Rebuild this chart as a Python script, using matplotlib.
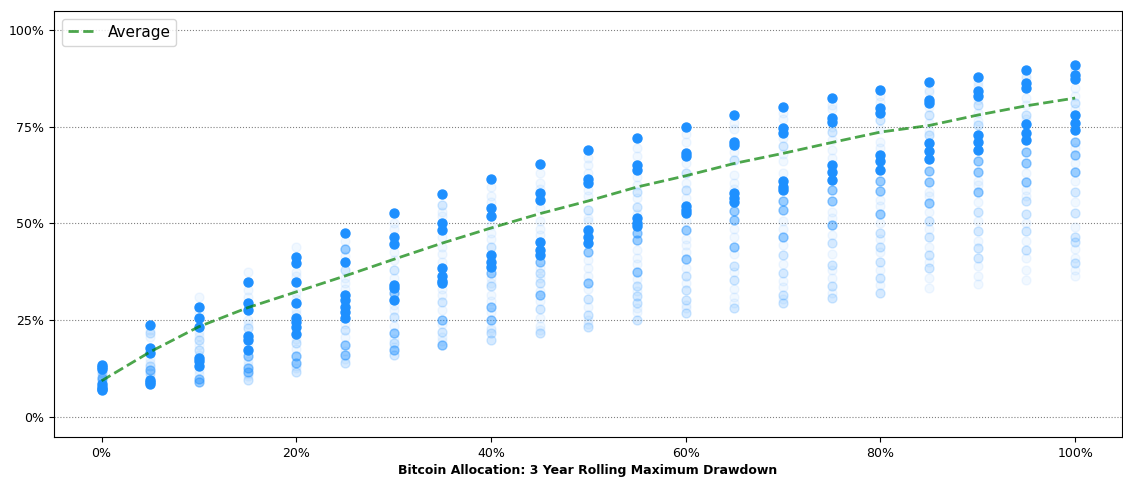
import matplotlib
matplotlib.use("Agg")
import matplotlib.pyplot as plt
from matplotlib.ticker import PercentFormatter

# bitcoin allocation (%) for each column of points
allocations = [0, 5, 10, 15, 20, 25, 30, 35, 40, 45, 50,
               55, 60, 65, 70, 75, 80, 85, 90, 95, 100]

# 3 year rolling max drawdown (%), grouped by how recent the window is
dd_recent = [
    [13.4, 12.8, 12.3, 8.4, 7.8, 7.3, 6.9],
    [23.8, 17.7, 16.6, 9.4, 8.9, 8.5],
    [28.3, 25.6, 23.3, 15.2, 14.3, 13.2],
    [34.8, 29.5, 27.5, 20.8, 19.9, 17.3],
    [41.4, 39.7, 34.8, 29.5, 25.6, 24.6, 23.3, 21.4],
    [47.5, 39.9, 31.5, 30.2, 28.5, 27.2, 25.5],
    [52.8, 46.6, 44.7, 34.1, 33.3, 30.2],
    [57.5, 50.0, 48.3, 38.4, 36.3, 35.2, 34.5],
    [61.5, 53.9, 51.8, 41.9, 40.1, 38.8],
    [65.4, 57.8, 56.1, 45.3, 43.2, 41.9],
    [69.0, 61.4, 60.4, 48.3, 46.6, 44.9],
    [72.0, 65.1, 63.8, 51.3, 50.0, 49.2],
    [75.0, 68.1, 67.3, 54.5, 53.5, 52.6],
    [77.9, 71.1, 70.3, 57.8, 56.5, 55.6],
    [80.2, 74.6, 73.3, 61.0, 59.5, 58.7],
    [82.3, 77.3, 76.3, 65.1, 63.4, 61.2],
    [84.5, 79.8, 78.5, 67.7, 66.0, 63.8],
    [86.5, 81.9, 81.0, 70.7, 68.6, 66.7],
    [87.9, 84.1, 83.0, 72.9, 71.0, 69.0],
    [89.7, 86.2, 84.9, 75.6, 73.3, 71.6],
    [91.0, 88.4, 87.3, 78.0, 75.9, 74.2],
]
dd_mid = [
    [10.0], [12.0], [9.8, 9.0], [12.7, 11.7, 15.6], [15.6, 13.9],
    [43.4, 18.6, 16.0], [32.0, 21.6, 17.3], [25.1, 18.6],
    [37.1, 28.5, 25.1], [39.9, 31.5], [42.7, 34.7],
    [47.6, 45.6, 37.5], [48.3, 40.8], [53.2, 50.9, 44.0],
    [55.9, 53.5, 46.6], [58.7, 55.8, 49.6], [61.0, 58.4, 52.4],
    [63.6, 60.8, 55.2], [66.0, 63.2, 58.1], [68.4, 65.5, 60.6],
    [71.1, 67.7, 63.4],
]
dd_old = [
    [11.2, 9.6], [21.7, 13.0, 11.4], [19.9, 17.3], [22.9, 9.6],
    [19.0, 11.7], [38.0, 22.5, 13.9], [38.0, 25.9, 19.0, 16.0],
    [54.8, 29.8, 22.0], [44.0, 33.7, 21.6, 19.9],
    [37.1, 34.5, 27.8, 21.6], [53.5, 30.4, 26.4, 23.3],
    [58.1, 54.3, 33.7, 31.1, 29.4, 25.1],
    [63.0, 58.7, 36.5, 32.8, 30.2, 26.8],
    [66.4, 39.1, 35.4, 28.1],
    [70.1, 41.9, 37.1, 31.5, 29.4],
    [73.7, 44.9, 39.3, 33.7, 30.7],
    [76.7, 47.5, 44.0, 40.1, 35.8, 32.0],
    [78.0, 72.9, 50.5, 46.6, 41.9, 38.4],
    [80.6, 75.5, 53.0, 47.9, 43.6, 41.0],
    [78.0, 55.8, 52.4, 47.9, 43.2],
    [81.0, 58.2, 52.6, 46.6, 45.3, 39.7],
]
dd_oldest = [
    [12.0, 11.8, 10.6, 9.0],
    [22.5, 20.5, 15.0, 14.0, 10.2],
    [31.0, 27.0, 22.0, 21.0, 18.5, 16.0, 12.0, 11.0],
    [37.5, 32.8, 31.0, 25.0, 24.0, 18.5, 14.5, 13.5, 11.0, 10.5],
    [44.0, 37.5, 36.5, 32.0, 30.5, 27.5, 26.5, 20.0, 17.5, 13.0, 12.5],
    [45.5, 41.5, 36.0, 34.5, 33.0, 29.0, 24.0, 20.5, 17.0, 15.0],
    [50.0, 48.5, 42.5, 40.5, 36.0, 29.0, 27.5, 23.5, 20.0, 18.0],
    [53.0, 52.0, 46.5, 44.0, 42.0, 40.0, 33.0, 31.5, 27.5, 24.0, 20.5, 19.5],
    [59.5, 57.0, 55.5, 49.5, 47.5, 46.0, 36.0, 34.5, 31.5, 30.0, 27.0, 23.0, 22.5],
    [63.0, 60.5, 59.0, 54.0, 50.5, 48.5, 47.0, 38.5, 36.0, 32.5, 30.0, 25.5, 23.5, 22.5],
    [67.0, 65.0, 63.0, 58.5, 57.0, 51.5, 50.5, 40.5, 38.5, 36.5, 33.0, 28.5, 25.0, 24.0],
    [69.5, 67.5, 62.0, 60.0, 56.5, 52.5, 43.0, 41.0, 39.5, 35.5, 32.5, 28.0, 27.0],
    [73.0, 71.0, 65.5, 60.5, 56.5, 50.5, 46.0, 44.5, 42.5, 38.5, 34.5, 29.0, 28.0],
    [76.0, 74.5, 68.5, 62.5, 60.5, 59.0, 48.5, 46.5, 42.0, 37.5, 33.0, 31.0, 29.5],
    [78.5, 77.0, 72.0, 68.0, 66.0, 63.0, 50.5, 48.5, 44.5, 39.5, 35.0, 33.5, 30.5],
    [80.5, 79.5, 75.0, 71.5, 69.0, 67.0, 53.0, 51.5, 47.0, 42.0, 38.0, 36.0, 32.0],
    [83.0, 81.5, 74.5, 71.0, 69.5, 56.0, 54.5, 50.0, 46.0, 42.5, 38.0, 34.0],
    [84.5, 84.0, 80.0, 76.0, 74.0, 58.0, 57.0, 53.0, 48.5, 44.0, 40.0, 36.0, 33.4],
    [86.5, 85.5, 82.0, 78.5, 76.5, 61.0, 60.0, 55.5, 50.5, 45.5, 39.0, 36.5, 34.3],
    [88.0, 87.5, 82.5, 80.5, 77.0, 63.0, 58.5, 57.0, 50.0, 45.5, 41.0, 38.0, 35.4],
    [90.0, 89.5, 85.0, 83.0, 79.5, 69.5, 65.5, 61.0, 55.5, 49.0, 43.5, 41.0, 38.0, 36.3],
]

# average drawdown for each allocation
dd_average = [9.3, 16.8, 23.3, 28.2, 32.3, 36.4, 40.7, 44.9, 48.8, 52.5, 55.8,
              59.4, 62.3, 65.5, 68.1, 70.9, 73.6, 75.3, 78.0, 80.4, 82.4]

fig = plt.figure(figsize=(11.23, 4.78), dpi=100)
ax = fig.add_axes([0.048, 0.086, 0.951, 0.891])

# oldest windows first so the recent ones sit on top
groups = [(dd_oldest, 0.06), (dd_old, 0.18), (dd_mid, 0.45), (dd_recent, 1.0)]
for values, alpha in groups:
    xs, ys = [], []
    for a, col in zip(allocations, values):
        xs += [a] * len(col)
        ys += col
    ax.scatter(xs, ys, s=42, color="dodgerblue", alpha=alpha)

ax.plot(allocations, dd_average, "--", color="green", alpha=0.7, lw=2, label="Average")

ax.set_xlim(-4.9, 104.8)
ax.set_ylim(-5.2, 104.9)
ax.set_xticks(range(0, 101, 20))
ax.set_yticks(range(0, 101, 25))
ax.xaxis.set_major_formatter(PercentFormatter(decimals=0))
ax.yaxis.set_major_formatter(PercentFormatter(decimals=0))
ax.tick_params(labelsize=9)
ax.grid(axis="y", linestyle=":", color="gray", lw=0.8)
ax.set_axisbelow(True)
ax.set_xlabel("Bitcoin Allocation: 3 Year Rolling Maximum Drawdown",
              fontweight="bold", fontsize=9, labelpad=3)
ax.legend(loc="upper left", fontsize=11, handlelength=1.8)

fig.savefig("out.png")
